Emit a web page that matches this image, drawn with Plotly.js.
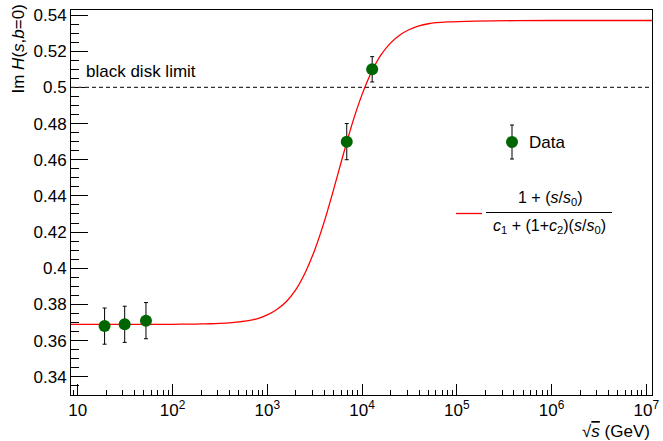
<!DOCTYPE html>
<html>
<head>
<meta charset="utf-8">
<script src="https://cdn.plot.ly/plotly-3.0.1.min.js"></script>
<style>html,body{margin:0;padding:0;background:#fff;}#chart{width:663px;height:441px;}</style>
</head>
<body>
<div id="chart"></div>
<script>
// Data points (sqrt(s) in GeV, Im H(s,b=0))
const dataX = [19.2, 31.3, 52.5, 6900, 12800];
const dataY = [0.368, 0.369, 0.371, 0.470, 0.510];
const dataErr = [0.010, 0.010, 0.010, 0.010, 0.007];

// Fitted curve
const curveX = [8, 10, 20, 50, 100, 158, 200, 251, 316, 398, 501, 631, 794, 1000, 1259, 1585, 1995, 2512, 3162, 3981, 5012, 6310, 7943, 10000, 12589, 15849, 19953, 25119, 31623, 39811, 50119, 79433, 158489, 1000000, 12000000];
const curveY = [0.3690, 0.3690, 0.3690, 0.3690, 0.3690, 0.3691, 0.3692, 0.3693, 0.3695, 0.3698, 0.3703, 0.3710, 0.3722, 0.3742, 0.3772, 0.3815, 0.3880, 0.3975, 0.4100, 0.4255, 0.4435, 0.4625, 0.4805, 0.4960, 0.5085, 0.5180, 0.5245, 0.5290, 0.5320, 0.5340, 0.5352, 0.5362, 0.5367, 0.5370, 0.5370];

const blackDiskLimit = 0.5;

const xTickVals = [10, 100, 1000, 10000, 100000, 1000000, 10000000];
const xTickText = ['10', '10<sup>2</sup>', '10<sup>3</sup>', '10<sup>4</sup>', '10<sup>5</sup>', '10<sup>6</sup>', '10<sup>7</sup>'];

const FONT = 'Liberation Sans, Arial, Helvetica, sans-serif';

const traces = [
  {
    x: curveX, y: curveY, type: 'scatter', mode: 'lines',
    line: {color: '#ff0000', width: 1.3, shape: 'spline', smoothing: 0.6},
    showlegend: false, hoverinfo: 'skip'
  },
  {
    x: dataX, y: dataY, type: 'scatter', mode: 'markers',
    marker: {color: '#006600', size: 12},
    error_y: {type: 'data', array: dataErr, visible: true, color: '#000', thickness: 1, width: 2},
    showlegend: false
  }
];

// plot area in px: l=71, r=652, t=10, b=395
const L = 71, R = 652, T = 10, B = 395;
const px = v => (v - L) / (R - L);
const py = v => (B - v) / (B - T);

const layout = {
  width: 663, height: 441,
  margin: {l: L, r: 663 - R, t: T, b: 441 - B},
  paper_bgcolor: '#fff', plot_bgcolor: '#fff',
  font: {family: FONT, size: 17, color: '#000'},
  showlegend: false,
  xaxis: {
    type: 'log', range: [0.929, 7.06],
    tickvals: xTickVals, ticktext: xTickText,
    ticks: 'inside', ticklen: 11, tickcolor: '#000', tickwidth: 1,
    minor: {ticks: 'inside', ticklen: 5, tickcolor: '#000', dtick: 'D1', showgrid: false},
    showline: true, linecolor: '#000', linewidth: 1, mirror: true,
    showgrid: false, zeroline: false,
    tickfont: {size: 17, family: FONT}
  },
  yaxis: {
    range: [0.3299, 0.5428],
    dtick: 0.02, tick0: 0.34,
    ticks: 'inside', ticklen: 17, tickcolor: '#000', tickwidth: 1,
    minor: {ticks: 'inside', ticklen: 8, tickcolor: '#000', dtick: 0.005, showgrid: false},
    showline: true, linecolor: '#000', linewidth: 1, mirror: true,
    showgrid: false, zeroline: false,
    tickfont: {size: 17, family: FONT}
  },
  shapes: [
    {type: 'line', xref: 'paper', yref: 'y', x0: 0, x1: 1, y0: blackDiskLimit, y1: blackDiskLimit,
     line: {color: '#333', width: 1.2, dash: '4px,3px'}},
    // legend: Data marker with error bar
    {type: 'line', xref: 'paper', yref: 'paper', x0: px(512), x1: px(512), y0: py(125), y1: py(159),
     line: {color: '#000', width: 1}},
    {type: 'line', xref: 'paper', yref: 'paper', x0: px(510), x1: px(514), y0: py(125), y1: py(125),
     line: {color: '#000', width: 1}},
    {type: 'line', xref: 'paper', yref: 'paper', x0: px(510), x1: px(514), y0: py(159), y1: py(159),
     line: {color: '#000', width: 1}},
    {type: 'circle', xref: 'paper', yref: 'paper', x0: px(506), x1: px(518), y0: py(136), y1: py(148),
     fillcolor: '#006600', line: {color: '#006600', width: 0}},
    // legend: red line
    {type: 'line', xref: 'paper', yref: 'paper', x0: px(456), x1: px(482), y0: py(213.5), y1: py(213.5),
     line: {color: '#ff0000', width: 1.3}},
    // fraction bar
    {type: 'line', xref: 'paper', yref: 'paper', x0: px(486), x1: px(612), y0: py(212.5), y1: py(212.5),
     line: {color: '#000', width: 1}}
  ],
  annotations: [
    {xref: 'paper', yref: 'paper', x: px(84), y: py(71), xanchor: 'left', yanchor: 'middle',
     text: 'black disk limit', showarrow: false, font: {size: 17, family: FONT}},
    {xref: 'paper', yref: 'paper', x: px(527), y: py(142), xanchor: 'left', yanchor: 'middle',
     text: 'Data', showarrow: false, font: {size: 17, family: FONT}},
    {xref: 'paper', yref: 'paper', x: px(550), y: py(198), xanchor: 'center', yanchor: 'middle',
     text: '1 + (<i>s</i>/<i>s</i><sub>0</sub>)', showarrow: false, font: {size: 16, family: FONT}},
    {xref: 'paper', yref: 'paper', x: px(549), y: py(226), xanchor: 'center', yanchor: 'middle',
     text: '<i>c</i><sub>1</sub> + (1+<i>c</i><sub>2</sub>)(<i>s</i>/<i>s</i><sub>0</sub>)', showarrow: false, font: {size: 16, family: FONT}},
    // axis titles
    {xref: 'paper', yref: 'paper', x: 0, y: 1, xanchor: 'center', yanchor: 'top', xshift: -53, yshift: 7,
     textangle: -90, text: 'Im <i>H</i>(<i>s</i>,<i>b</i>=0)', showarrow: false, font: {size: 17, family: FONT}},
    {xref: 'paper', yref: 'paper', x: 1, y: 0, xanchor: 'right', yanchor: 'top', yshift: -25,
     text: '√<span style="text-decoration:overline"><i>s</i></span> (GeV)', showarrow: false, font: {size: 17, family: FONT}}
  ]
};

Plotly.newPlot('chart', traces, layout, {displayModeBar: false, staticPlot: true});
</script>
</body>
</html>
